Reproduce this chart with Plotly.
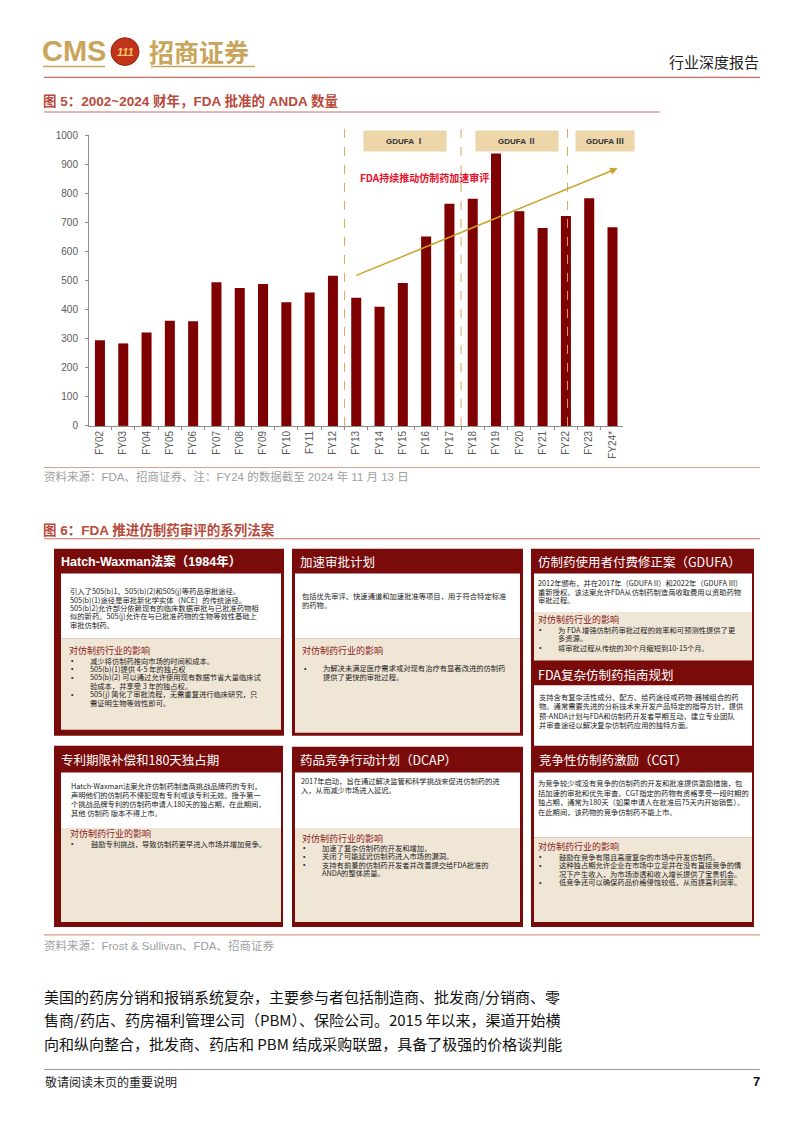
import plotly.graph_objects as go

# The page body has an 8px default margin, so the figure is placed at (8, 8):
OFF = 8
W, H = 786, 1117

# ---------------- chart data ----------------
fiscal_years = ["FY02", "FY03", "FY04", "FY05", "FY06", "FY07", "FY08", "FY09", "FY10", "FY11", "FY12",
                "FY13", "FY14", "FY15", "FY16", "FY17", "FY18", "FY19", "FY20", "FY21", "FY22", "FY23", "FY24*"]
anda_approvals = [295, 284, 322, 362, 360, 495, 475, 489, 426, 459, 517,
                  441, 410, 492, 652, 765, 782, 938, 739, 681, 723, 784, 684]
y_tick_values = [0, 100, 200, 300, 400, 500, 600, 700, 800, 900, 1000]
phase_labels = ["GDUFA Ⅰ", "GDUFA Ⅱ", "GDUFA Ⅲ"]
phase_centers = [13.09, 17.9, 21.67]      # category-index positions
phase_label_widths = [80, 80, 56]
phase_bounds = [10.5, 15.5, 20.07]        # dashed separators (category index)
trend_start = (10.94, 516)
trend_end = (22.22, 887)
trend_label = "FDA持续推动仿制药加速审评"
trend_label_pos = (13.95, 857)

SANS = "Liberation Sans, Noto Sans CJK SC, sans-serif"
CJK = "Noto Sans CJK SC, Liberation Sans, sans-serif"
BAR = "#7f0000"
DARK = "#7a0b0b"
BEIGE = "#f0e6d6"
TITLE_RED = "#b84a3c"
LINE_RED = "#c4705e"
GOLD = "#c8a55a"

fig = go.Figure(go.Bar(x=fiscal_years, y=anda_approvals, marker_color=BAR,
                       marker_line_width=0, hoverinfo="x+y"))

shapes = []
annotations = []


def px(x):
    return (x - OFF) / W


def py(y):
    return 1 - (y - OFF) / H


def rect(x0, y0, x1, y1, fill, line_color=None, lw=0):
    shapes.append(dict(type="rect", xref="paper", yref="paper",
                       x0=px(x0), x1=px(x1), y0=py(y1), y1=py(y0),
                       fillcolor=fill, line=dict(width=lw, color=line_color or fill),
                       layer="above"))


def hline(x0, x1, y, color, width=1):
    shapes.append(dict(type="line", xref="paper", yref="paper",
                       x0=px(x0), x1=px(x1), y0=py(y), y1=py(y),
                       line=dict(color=color, width=width)))


def text(x, y, s, size, color="#222", bold=False, anchor="left", family=SANS):
    annotations.append(dict(xref="paper", yref="paper", x=px(x), y=py(y),
                            text=f"<b>{s}</b>" if bold else s, showarrow=False,
                            xanchor=anchor, yanchor="middle", borderpad=0,
                            font=dict(size=size, color=color, family=family)))


# ---------------- header ----------------
text(41, 46, "CMS", 29, GOLD, bold=True, family="Liberation Sans")
shapes.append(dict(type="circle", xref="paper", yref="paper",
                   x0=px(111), x1=px(139), y0=py(61), y1=py(33),
                   fillcolor="#c0341c", line=dict(color="#9a2412", width=1)))
text(125, 47, "<i>111</i>", 11, "#f2c66a", bold=True, anchor="center", family="Liberation Sans")
text(148, 46, "招商证券", 25, GOLD, bold=True, family=CJK)
hline(43, 105, 62, GOLD, 1.5)
hline(151, 255, 62, GOLD, 1.5)
text(760, 57, "行业深度报告", 15, "#222", anchor="right", family=CJK)
hline(44, 760, 73, LINE_RED, 1.2)

# ---------------- figure 5 title ----------------
text(42, 97, "图 5：2002~2024 财年，FDA 批准的 ANDA 数量", 13.5, TITLE_RED, bold=True)
hline(44, 660, 108, LINE_RED, 1)

# chart decorations
for b in phase_bounds:
    shapes.append(dict(type="line", xref="x", yref="paper", x0=b, x1=b,
                       y0=py(425), y1=py(122),
                       line=dict(color="#d9a55a", width=1, dash="dash")))
for lbl, c, w in zip(phase_labels, phase_centers, phase_label_widths):
    annotations.append(dict(xref="x", yref="y", x=c, y=980, text=f"<b>{lbl}</b>",
                            showarrow=False, bgcolor="#ecd6aa", width=w, height=18,
                            font=dict(size=8, color="#333", family=SANS)))
annotations.append(dict(xref="x", yref="y", x=trend_end[0], y=trend_end[1],
                        axref="x", ayref="y", ax=trend_start[0], ay=trend_start[1],
                        text="", showarrow=True, arrowhead=2, arrowsize=1,
                        arrowwidth=1.5, arrowcolor="#c9a227", standoff=0, startstandoff=0))
annotations.append(dict(xref="x", yref="y", x=trend_label_pos[0], y=trend_label_pos[1],
                        text=f"<b>{trend_label}</b>", showarrow=False,
                        font=dict(size=10, color="#e8102a", family=CJK)))

hline(44, 760, 467, "#d3a28f", 1.2)
text(43, 476, "资料来源：FDA、招商证券、注：FY24 的数据截至 2024 年 11 月 13 日", 11.5, "#a0a0a0")

# ---------------- figure 6 ----------------
text(42, 530, "图 6：FDA 推进仿制药审评的系列法案", 13.5, TITLE_RED, bold=True)
hline(44, 760, 539, LINE_RED, 1)

IMPACT = "对仿制药行业的影响"
IMPACT_COLOR = "#8b1a1a"
BODY = 7.3


def lines(x, ys, strs, size=BODY, color="#222"):
    for yy, s in zip(ys, strs):
        text(x, yy, s, size, color, family=CJK)


def bullets(xb, xt, ys, strs, flags):
    for yy, s, f in zip(ys, strs, flags):
        if f:
            text(xb, yy, "•", 7, "#222")
        text(xt, yy, s, BODY, "#222", family=CJK)


# Box 1: Hatch-Waxman
rect(54, 549, 284, 738, DARK)
rect(61, 574, 281, 640, "white")
rect(61, 640, 281, 732, BEIGE)
text(60, 562, "Hatch-Waxman法案（1984年）", 12.5, "white", bold=True)
lines(69, [592, 600.5, 609, 617.5, 626],
      ["引入了505(b)1、505(b)(2)和505(j)等药品审批途径。",
       "505(b)(1)途径是审批新化学实体（NCE）的传统途径。",
       "505(b)2)允许部分依赖现有的临床数据审批与已批准药物相",
       "似的新药。505(j)允许在与已批准药物的生物等效性基础上",
       "审批仿制药。"])
text(68, 652, IMPACT, 9, IMPACT_COLOR, family=CJK)
bullets(70, 89, [662, 670.5, 679, 687.5, 696, 704.5],
        ["减少将仿制药推向市场的时间和成本。",
         "505(b)(1)提供 4-5 年的独占权",
         "505(b)(2) 可以通过允许使用现有数据节省大量临床试",
         "验成本，并享受 3 年的独占权。",
         "505(j) 简化了审批流程，无需重复进行临床研究，只",
         "需证明生物等效性即可。"],
        [1, 1, 1, 0, 1, 0])

# Box 2: accelerated approval
rect(292, 549, 523, 738, DARK)
rect(295, 574, 520, 640, "white")
rect(295, 640, 520, 735, BEIGE)
text(299, 562, "加速审批计划", 12.5, "white", family=CJK)
lines(301, [597, 605.5],
      ["包括优先审评、快速通道和加速批准等项目，用于符合特定标准",
       "的药物。"])
text(301, 652, IMPACT, 9, IMPACT_COLOR, family=CJK)
bullets(303, 322, [670, 678.5],
        ["为解决未满足医疗需求或对现有治疗有显著改进的仿制药",
         "提供了更快的审批过程。"], [1, 0])

# Right column: GDUFA / complex generics / CGT
rect(531, 549, 754, 931, DARK)
rect(534, 574, 752, 613, "white")
rect(534, 613, 752, 662, BEIGE)
text(537, 562, "仿制药使用者付费修正案（GDUFA）", 12.5, "white", family=CJK)
lines(537, [584, 592.5, 601],
      ["2012年颁布，并在2017年（GDUFA II）和2022年（GDUFA III）",
       "重新授权。该法案允许FDA从仿制药制造商收取费用以资助药物",
       "审批过程。"])
text(537, 621, IMPACT, 9, IMPACT_COLOR, family=CJK)
bullets(538, 557, [631, 639.5, 649],
        ["为 FDA 增强仿制药审批过程的效率和可预测性提供了更",
         "多资源。",
         "将审批过程从传统的30个月缩短到10-15个月。"], [1, 0, 1])

rect(534, 687, 752, 748, "white")
text(537, 676, "FDA复杂仿制药指南规划", 12.5, "white", family=CJK)
lines(538, [699, 708.3, 717.6, 727],
      ["支持含有复杂活性成分、配方、给药途径或药物-器械组合的药",
       "物。通常需要先进的分析技术来开发产品特定的指导方针，提供",
       "预-ANDA计划与FDA和仿制药开发者早期互动，建立专业团队",
       "并审查途径以解决复杂仿制药应用的独特方面。"])

rect(534, 775, 752, 841, "white")
rect(534, 841, 752, 926, BEIGE)
text(538, 762, "竞争性仿制药激励（CGT）", 12.5, "white", family=CJK)
lines(537, [786, 795.6, 805.2, 814.8],
      ["为竞争较少或没有竞争的仿制药的开发和批准提供激励措施，包",
       "括加速的审批和优先审查。CGT指定的药物有资格享受一段时期的",
       "独占期，通常为180天（如果申请人在批准后75天内开始销售）。",
       "在此期间，该药物的竞争仿制药不能上市。"])
text(537, 850, IMPACT, 9, IMPACT_COLOR, family=CJK)
bullets(538, 558, [860, 868.7, 877.4, 886.1],
        ["鼓励在竞争有限且高度复杂的市场中开发仿制药。",
         "这种独占期允许企业在市场中立足并在没有直接竞争的情",
         "况下产生收入，为市场渗透和收入增长提供了宝贵机会。",
         "低竞争还可以确保药品价格侵蚀较低，从而提高利润率。"], [1, 1, 0, 1])

# Box 4: patent term / 180-day exclusivity
rect(54, 748, 283, 931, DARK)
rect(61, 775, 281, 831, "white")
rect(61, 831, 281, 926, BEIGE)
text(60, 762, "专利期限补偿和180天独占期", 12.5, "white", family=CJK)
lines(70, [789, 798, 807, 816],
      ["Hatch-Waxman法案允许仿制药制造商挑战品牌药的专利，",
       "声明他们的仿制药不侵犯现有专利或该专利无效。授予第一",
       "个挑战品牌专利的仿制药申请人180天的独占期，在此期间，",
       "其他 仿制药 版本不得上市。"])
text(69, 837, IMPACT, 9, IMPACT_COLOR, family=CJK)
bullets(70, 90, [847], ["鼓励专利挑战，导致仿制药更早进入市场并增加竞争。"], [1])

# Box 5: DCAP
rect(292, 749, 523, 931, DARK)
rect(295, 775, 520, 831, "white")
rect(295, 831, 520, 926, BEIGE)
text(299, 762, "药品竞争行动计划（DCAP）", 12.5, "white", family=CJK)
lines(300, [784, 792.5],
      ["2017年启动，旨在通过解决监管和科学挑战来促进仿制药的进",
       "入，从而减少市场进入延迟。"])
text(301, 842, IMPACT, 9, IMPACT_COLOR, family=CJK)
bullets(302, 321, [851, 859.5, 868, 876.5],
        ["加速了复杂仿制药的开发和增加。",
         "关闭了可能延迟仿制药进入市场的漏洞。",
         "支持有前景的仿制药开发者并改善提交给FDA批准的",
         "ANDA的整体质量。"], [1, 1, 1, 0])

hline(44, 760, 939, "#d3a28f", 1.2)
text(43, 950, "资料来源：Frost & Sullivan、FDA、招商证券", 11.5, "#a0a0a0")

# ---------------- body text & footer ----------------
body_lines = ["美国的药房分销和报销系统复杂，主要参与者包括制造商、批发商/分销商、零",
              "售商/药店、药房福利管理公司（PBM）、保险公司。2015 年以来，渠道开始横",
              "向和纵向整合，批发商、药店和 PBM 结成采购联盟，具备了极强的价格谈判能"]
for yy, s in zip([1001, 1025, 1049], body_lines):
    text(43, yy, s, 15, "#111", family=CJK)

hline(44, 760, 1075, "#9a9a9a", 1)
text(44, 1087, "敬请阅读末页的重要说明", 12, "#222", family=CJK)
text(761, 1087, "7", 13, "#111", bold=True, anchor="right")

fig.update_layout(
    width=W, height=H, margin=dict(l=0, r=0, t=0, b=0),
    paper_bgcolor="white", plot_bgcolor="white",
    showlegend=False, bargap=0.57,
    shapes=shapes, annotations=annotations,
    xaxis=dict(domain=[px(89), px(623)], type="category", range=[-0.47, 22.45],
               tickangle=-90, tickfont=dict(size=10, color="#595959", family=SANS),
               showline=True, linecolor="#8c8c8c", linewidth=1,
               ticks="outside", tickson="boundaries", ticklen=3, tickcolor="#8c8c8c",
               showgrid=False, fixedrange=True),
    yaxis=dict(domain=[py(425), py(131.7)], range=[0, 1000],
               tickvals=y_tick_values, tickfont=dict(size=10, color="#595959", family=SANS),
               showline=True, linecolor="#8c8c8c", linewidth=1,
               ticks="outside", ticklen=3, tickcolor="#8c8c8c", ticklabelstandoff=5,
               showgrid=False, zeroline=False, fixedrange=True),
)

fig.write_html("out.html")
